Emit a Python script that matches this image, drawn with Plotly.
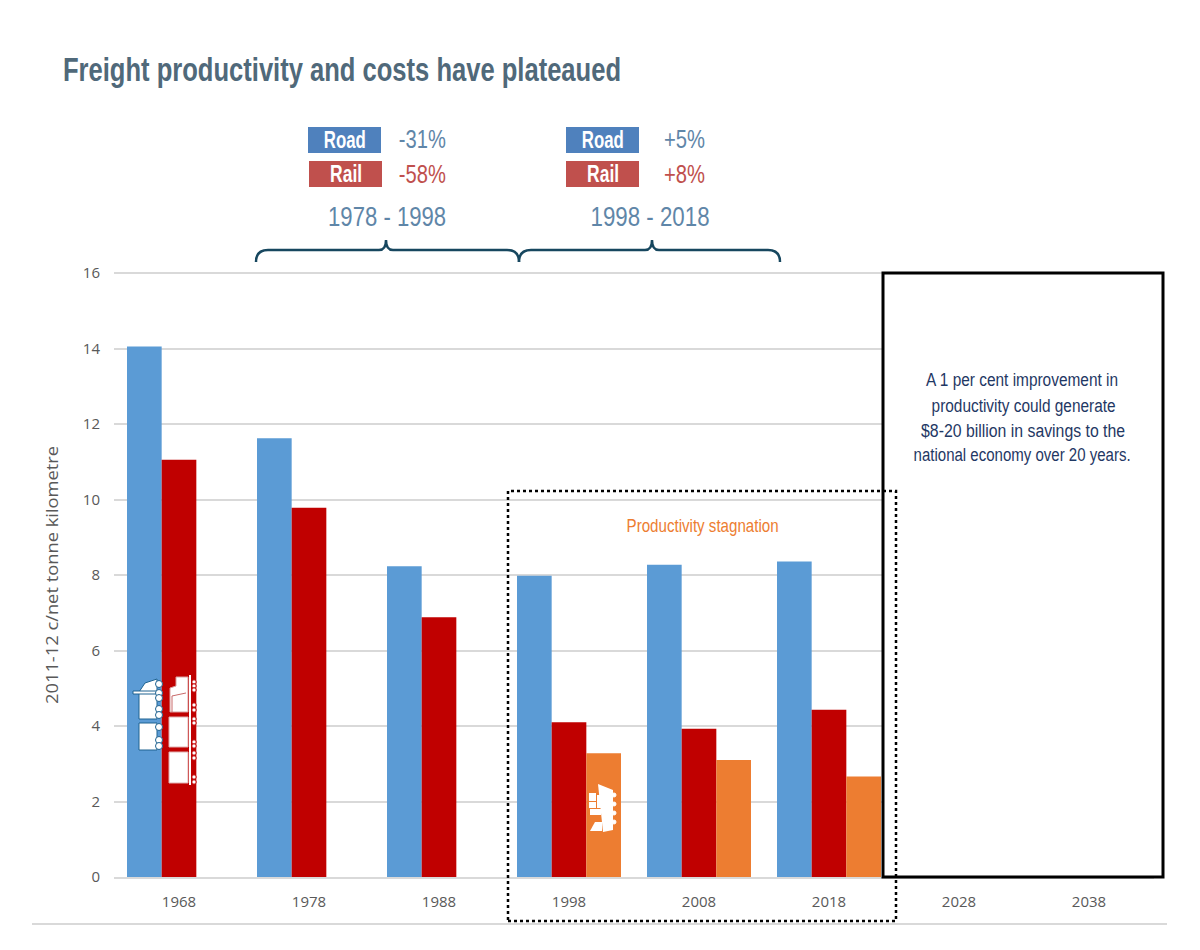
import json
import plotly.graph_objects as go

years = ["1968", "1978", "1988", "1998", "2008", "2018", "2028", "2038"]
road = [14.05, 11.62, 8.23, 7.98, 8.27, 8.36, None, None]
rail = [11.05, 9.78, 6.88, 4.1, 3.93, 4.43, None, None]
sea = [None, None, None, 3.28, 3.1, 2.66, None, None]
y_ticks = [0, 2, 4, 6, 8, 10, 12, 14, 16]

L, R, T, B = 114, 1154, 273, 877
FONT = "Liberation Sans, Arial, sans-serif"
TICK_FONT = "Open Sans, sans-serif"


def X(p):
    return (p - L) / (R - L)


def Y(p):
    return (B - p) / (B - T)


shapes = []
annotations = []
widths = {}


def rect(x0, y0, x1, y1, fill=None, line=None, w=0, dash=None, layer="above"):
    shapes.append(dict(type="rect", xref="paper", yref="paper", x0=X(x0), x1=X(x1), y0=Y(y1), y1=Y(y0),
                       fillcolor=fill or "rgba(0,0,0,0)",
                       line=dict(color=line or "rgba(0,0,0,0)", width=w, dash=dash), layer=layer))


def circle(cx, cy, r, fill, line):
    shapes.append(dict(type="circle", xref="paper", yref="paper", x0=X(cx - r), x1=X(cx + r), y0=Y(cy + r),
                       y1=Y(cy - r), fillcolor=fill, line=dict(color=line, width=1), layer="above"))


def path(pts, fill=None, line=None, w=0):
    d = []
    for cmd, coords in pts:
        if cmd == "Z":
            d.append("Z")
        elif cmd == "Q":
            d.append(f"Q{X(coords[0]):.5f},{Y(coords[1]):.5f} {X(coords[2]):.5f},{Y(coords[3]):.5f}")
        else:
            for i in range(0, len(coords), 2):
                c = cmd if i == 0 else "L"
                d.append(f"{c}{X(coords[i]):.5f},{Y(coords[i + 1]):.5f}")
    shapes.append(dict(type="path", xref="paper", yref="paper", path=" ".join(d), fillcolor=fill or "rgba(0,0,0,0)",
                       line=dict(color=line or "rgba(0,0,0,0)", width=w), layer="above"))


def text(s, x, y, size, color, width, bold=False):
    annotations.append(dict(text=s, xref="paper", yref="paper", x=X(x), y=Y(y), xanchor="center", yanchor="middle",
                            showarrow=False,
                            font=dict(family=FONT, size=size, color=color, weight=700 if bold else 400)))
    widths[s] = width


def brace(x0, tip, x1, y_top=240, y_mid=250, y_end=262, color="#17475F"):
    path([("M", [x0, y_end]), ("Q", [x0, y_mid, x0 + 12, y_mid]), ("L", [tip - 7, y_mid]),
          ("Q", [tip, y_mid, tip, y_top]), ("Q", [tip, y_mid, tip + 7, y_mid]), ("L", [x1 - 12, y_mid]),
          ("Q", [x1, y_mid, x1, y_end])], line=color, w=2.5)


# Footer rule and top gridline
rect(32, 923, 1167, 925, fill="#D9D9D9")
rect(114, 272, 883, 274, fill="#D9D9D9", layer="below")

# Right-hand box
rect(883, 273, 1163, 877, fill="white", line="black", w=3)
text("A 1 per cent improvement in", 1022, 380, 18, "#1F3864", 192)
text("productivity could generate", 1023, 406, 18, "#1F3864", 184)
text("$8-20 billion in savings to the", 1023, 431, 18, "#1F3864", 204)
text("national economy over 20 years.", 1022, 455, 18, "#1F3864", 217)

# Dotted box
rect(508, 491, 896, 921, line="black", w=2.5, dash="dot")
text("Productivity stagnation", 702, 525, 19, "#ED7D31", 152)

# Summary tags
rect(308, 127, 381, 153, fill="#4F81BD")
rect(309, 161, 382, 187, fill="#C0504D")
rect(566, 127, 639, 153, fill="#4F81BD")
rect(566, 161, 639, 187, fill="#C0504D")
text("Road", 345, 140, 23, "white", 42, bold=True)
text("Rail", 346, 174, 23, "white", 32, bold=True)
text("Road", 603, 140, 23, "white", 42, bold=True)
text("Rail", 603, 174, 23, "white", 32, bold=True)
text("-31%", 422, 139, 26, "#5F86A8", 47)
text("-58%", 422, 174, 26, "#C0504D", 47)
text("+5%", 684, 139, 26, "#5F86A8", 41)
text("+8%", 684, 174, 26, "#C0504D", 41)
text("1978 - 1998", 387, 217, 27, "#5F86A8", 118)
text("1998 - 2018", 650, 217, 27, "#5F86A8", 119)
brace(256, 386, 519)
brace(519, 652, 780)

# Truck icon
TL = "#1F6391"
rect(139, 693, 157, 719, fill="white", line=TL, w=1)
rect(139, 723, 157, 750, fill="white", line=TL, w=1)
path([("M", [139, 692]), ("L", [145, 683, 157, 679, 157, 692]), ("Z", [])], fill="white", line=TL, w=1)
rect(133, 691, 157, 694, fill="white", line=TL, w=1)
for wy in [684, 693, 698, 709, 715, 727, 740, 746]:
    circle(159, wy, 3.5, "white", TL)

# Train icon
RL = "#C00000"
path([("M", [170, 688]), ("L", [176, 686, 176, 677, 188, 677, 188, 712, 170, 712]), ("Z", [])], fill="white",
     line="#D9A0A0", w=1)
path([("M", [172, 712]), ("L", [172, 696, 186, 693])], line="#C96A6A", w=1)
rect(169, 717, 188, 747, fill="white", line="#E0B0B0", w=1)
rect(169, 752, 188, 783, fill="white", line="#E0B0B0", w=1)
rect(189, 675, 191, 785, fill="white")
for wy in [682, 686, 690, 705, 710, 719, 723, 742, 746, 753, 758, 777, 782]:
    circle(194, wy, 2.2, "white", RL)

# Ship icon
path([("M", [598, 784]), ("L", [613, 790, 613, 830, 603, 832]), ("Z", [])], fill="white")
for sy in [795, 804, 813, 822]:
    circle(614, sy, 2, "white", "white")
rect(589, 793, 596, 801, fill="white")
rect(597, 795, 601, 808, fill="white")
rect(589, 802, 596, 808, fill="white")
rect(590, 809, 601, 815, fill="white")
path([("M", [590, 831]), ("L", [595, 822, 602, 822, 602, 831]), ("Z", [])], fill="white")

fig = go.Figure()
for name, vals, color in [("Road", road, "#5B9BD5"), ("Rail", rail, "#C00000"), ("Sea", sea, "#ED7D31")]:
    fig.add_bar(x=years, y=vals, name=name, marker=dict(color=color, line=dict(width=0)))

fig.update_layout(
    width=1200, height=950, margin=dict(l=L, r=1200 - R, t=T, b=950 - B),
    barmode="group", bargap=0.2, bargroupgap=0, showlegend=False,
    paper_bgcolor="white", plot_bgcolor="white",
    font=dict(family=TICK_FONT, color="#595959"),
    shapes=shapes, annotations=annotations,
    title=dict(text="Freight productivity and costs have plateaued", x=63 / 1200, xanchor="left",
               y=1 - 69 / 950, yanchor="middle",
               font=dict(family=FONT, size=34, color="#50697A", weight=700)),
)
fig.update_xaxes(type="category", categoryorder="array", categoryarray=years, showgrid=False, showline=True,
                 linecolor="#D9D9D9", linewidth=2, ticks="", ticklabelstandoff=10,
                 tickfont=dict(size=15, color="#595959"))
fig.update_yaxes(range=[0, 16], tickvals=y_ticks, gridcolor="#D9D9D9", gridwidth=2, zeroline=False, ticks="",
                 ticklabelstandoff=13, tickfont=dict(size=15, color="#595959"),
                 title=dict(text="2011-12 c/net tonne kilometre", standoff=19, font=dict(size=17, color="#595959")))

post = """
document.body.style.margin = '0';
var W = %s;
function fit(el, w) {
  el.setAttribute('textLength', w);
  el.setAttribute('lengthAdjust', 'spacingAndGlyphs');
}
document.querySelectorAll('.annotation-text').forEach(function (t) {
  var w = W[t.textContent];
  if (w) fit(t, w);
});
document.querySelectorAll('.gtitle').forEach(function (t) { fit(t, 558); });
document.querySelectorAll('.ytitle').forEach(function (t) { fit(t, 258); });
""" % json.dumps(widths)

fig.write_html("out.html", post_script=post, config={"displayModeBar": False})
